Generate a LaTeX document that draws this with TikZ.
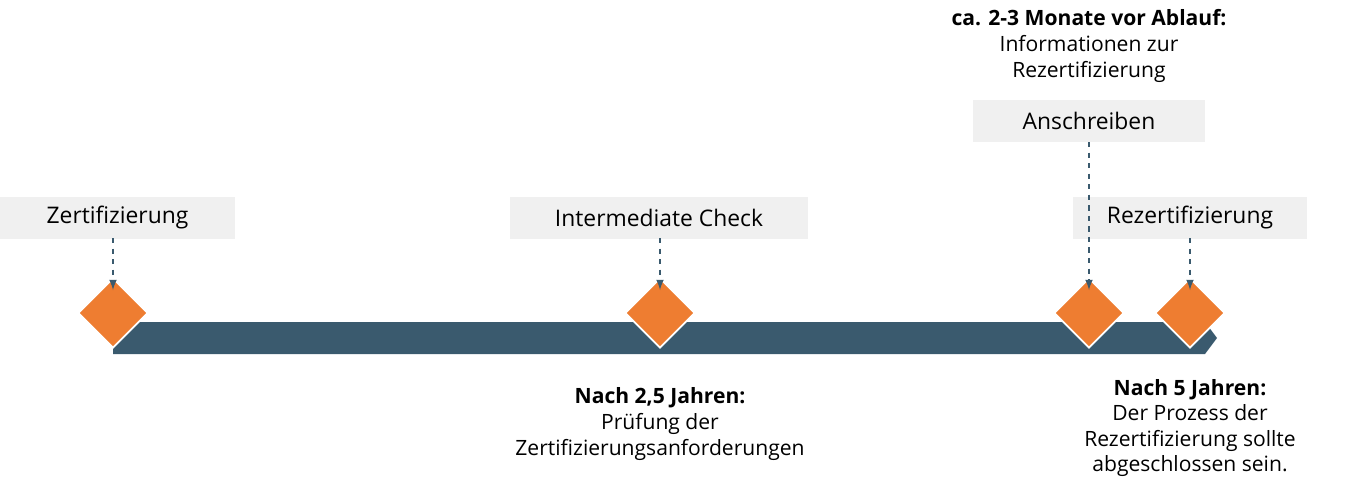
\documentclass[tikz,border=0pt]{standalone}
\usepackage{fontspec}
\setmainfont{Open Sans}
\usetikzlibrary{positioning}
\definecolor{barblue}{HTML}{3A5A6E}
\definecolor{msorange}{HTML}{EE7D31}
\definecolor{boxgrey}{HTML}{F0F0F0}
\tikzset{
  labelbox/.style={fill=boxgrey, minimum height=0.84cm, inner sep=0pt, font=\fontsize{13}{15}\selectfont},
  milestone/.style={fill=msorange, draw=white, line width=1pt, minimum size=0.98cm, inner sep=0pt, rotate=45},
  link/.style={->, >=latex, dashed, barblue, line width=1pt},
  note/.style={align=center, font=\fontsize{12}{14.6}\selectfont, inner sep=0pt}
}
\begin{document}
\begin{tikzpicture}[x=0.02cm, y=-0.02cm]
  \useasboundingbox (0,0) rectangle (1350,491);

  % the bar
  \fill[barblue] (113,322) -- (1205,322) -- (1217,338) -- (1205,354) -- (113,354) -- cycle;

  % label boxes
  \node[labelbox, minimum width=4.7cm] (zert) at (117.5,217.5) {Zertifizierung};
  \node[labelbox, minimum width=5.96cm] (inter) at (659,217.5) {Intermediate Check};
  \node[labelbox, minimum width=4.64cm] (ansch) at (1089,121) {Anschreiben};
  \node[labelbox, minimum width=4.68cm] (rezert) at (1190,217.5) {Rezertifizierung};

  % milestones
  \node[milestone] (m1) at (113,313) {};
  \node[milestone] (m2) at (660,313) {};
  \node[milestone] (m3) at (1089,313) {};
  \node[milestone] (m4) at (1190,313) {};

  % dashed links
  \coordinate (z1) at (113,238);
  \coordinate (z2) at (660,238);
  \coordinate (z3) at (1089,142);
  \coordinate (z4) at (1190,238);
  \foreach \i in {1,...,4}
    \draw[link] (z\i) -- ([yshift=-0.1cm]m\i.north east |- 0,285);

  % notes
  \node[note] (top) at (1089,46) {\textbf{ca. 2-3 Monate vor Ablauf:}\\Informationen zur\\Rezertifizierung};
  \node[note] (mid) at (660,424) {\textbf{Nach 2,5 Jahren:}\\Prüfung der\\Zertifizierungsanforderungen};
  \node[note] (end) at (1190,428) {\textbf{Nach 5 Jahren:}\\Der Prozess der\\Rezertifizierung sollte\\abgeschlossen sein.};
\end{tikzpicture}
\end{document}
